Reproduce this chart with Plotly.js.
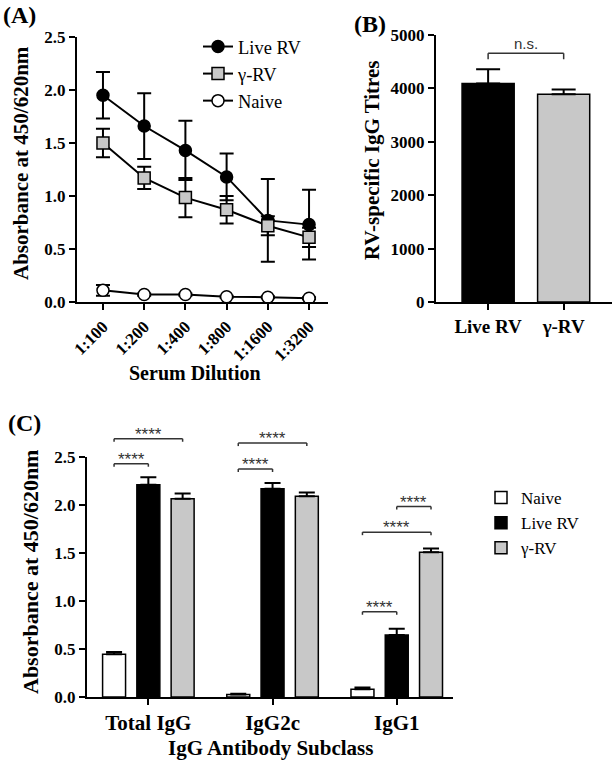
<!DOCTYPE html>
<html>
<head>
<meta charset="utf-8">
<script src="https://cdn.plot.ly/plotly-3.0.1.min.js"></script>
<style>
  html, body { margin: 0; padding: 0; background: #fff; }
  #chart { width: 615px; height: 761px; }
</style>
</head>
<body>
<div id="chart"></div>
<script>
// (A) absorbance vs serum dilution
const dilutions = ['1:100', '1:200', '1:400', '1:800', '1:1600', '1:3200'];
const liveMean = [1.95, 1.66, 1.43, 1.18, 0.77, 0.73];
const liveSd = [0.22, 0.31, 0.28, 0.22, 0.39, 0.33];
const gammaMean = [1.50, 1.17, 0.985, 0.87, 0.72, 0.61];
const gammaSd = [0.135, 0.105, 0.185, 0.13, 0.09, 0.09];
const naiveMean = [0.11, 0.07, 0.07, 0.05, 0.045, 0.035];
const naiveSd = [0.05, 0.01, 0.01, 0.01, 0.01, 0.01];

// (B) RV-specific IgG titres
const titreGroups = ['Live RV', 'γ-RV'];
const titres = [4090, 3890];
const titreErr = [270, 90];

// (C) IgG subclasses
const subclasses = ['Total IgG', 'IgG2c', 'IgG1'];
const subNaive = [0.445, 0.025, 0.08];
const subNaiveErr = [0.025, 0.008, 0.018];
const subLive = [2.21, 2.17, 0.645];
const subLiveErr = [0.08, 0.06, 0.065];
const subGamma = [2.065, 2.09, 1.508];
const subGammaErr = [0.055, 0.04, 0.04];
// [subclass index, from group, to group, bracket level]
const sigBrackets = [
  [0, 0, 1, 2.43], [0, 0, 2, 2.69],
  [1, 0, 1, 2.375], [1, 0, 2, 2.645],
  [2, 0, 1, 0.888], [2, 0, 2, 1.717], [2, 1, 2, 1.984],
];

const W = 615, H = 761;
const px = x => x / W;
const py = y => 1 - y / H;
const serif = '"Liberation Serif", "Times New Roman", Times, serif';
const sans = '"Liberation Sans", Arial, sans-serif';
const grey = '#c8c8c8';

const domA = { x: [px(77), px(328)], y: [py(302), py(37)] };
const domB = { x: [px(436), px(612)], y: [py(302), py(35)] };
const domC = { x: [px(87), px(453)], y: [py(697), py(457)] };

const boldFont = size => ({ family: serif, size, color: '#000', weight: 'bold' });

function axisStyle(extra) {
  return Object.assign({
    showline: true, linecolor: '#000', linewidth: 2,
    ticks: 'outside', ticklen: 6, tickwidth: 2, tickcolor: '#000',
    showgrid: false, zeroline: false, fixedrange: true,
    tickfont: boldFont(17),
  }, extra);
}

function errBar(arr, width, symmetric = true) {
  const e = { type: 'data', array: arr, color: '#000', thickness: 2, width };
  if (!symmetric) { e.symmetric = false; e.arrayminus = arr.map(() => 0); }
  return e;
}

const lineTrace = (name, y, sd, marker) => ({
  x: dilutions, y, name, type: 'scatter', mode: 'lines+markers',
  xaxis: 'x', yaxis: 'y', legend: 'legend',
  line: { color: '#000', width: 2 },
  marker: Object.assign({ size: 12, line: { color: '#000', width: 1.5 } }, marker),
  error_y: errBar(sd, 7),
});

const traces = [
  lineTrace('Live RV', liveMean, liveSd, { symbol: 'circle', color: '#000' }),
  lineTrace('γ-RV', gammaMean, gammaSd, { symbol: 'square', color: grey }),
  lineTrace('Naive', naiveMean, naiveSd, { symbol: 'circle', color: '#fff' }),
  {
    x: titreGroups, y: titres, type: 'bar', xaxis: 'x2', yaxis: 'y2', showlegend: false,
    width: 0.69, offset: -0.345,
    marker: { color: ['#000', grey], line: { color: '#000', width: 1.5 } },
    error_y: errBar(titreErr, 12, false),
  },
];

const subSeries = [
  ['Naive', subNaive, subNaiveErr, '#fff'],
  ['Live RV', subLive, subLiveErr, '#000'],
  ['γ-RV', subGamma, subGammaErr, grey],
];
const barStep = 0.276, barW = 0.185;
subSeries.forEach(([name, y, err, color], i) => {
  traces.push({
    x: subclasses, y, name, type: 'bar', xaxis: 'x3', yaxis: 'y3', legend: 'legend2',
    width: barW, offset: (i - 1) * barStep - barW / 2,
    marker: { color, line: { color: '#000', width: 1.5 } },
    error_y: errBar(err, 8, false),
  });
});

// significance brackets, in paper y so they can sit above the axis top
const toPaper = (v, dom, max) => dom.y[0] + (v / max) * (dom.y[1] - dom.y[0]);
const shapes = [];
const annotations = [];
function bracket(xref, x0, x1, yp, legPx, label, size, shift) {
  const leg = legPx / H;
  const base = { type: 'line', xref, yref: 'paper', line: { color: '#333', width: 1.5 } };
  shapes.push(Object.assign({ x0, x1, y0: yp, y1: yp }, base));
  shapes.push(Object.assign({ x0, x1: x0, y0: yp, y1: yp - leg }, base));
  shapes.push(Object.assign({ x0: x1, x1, y0: yp, y1: yp - leg }, base));
  annotations.push({
    xref, yref: 'paper', x: (x0 + x1) / 2, y: yp, xanchor: 'center', yanchor: 'bottom', yshift: shift,
    text: label, showarrow: false, font: { family: sans, size, color: '#333' },
  });
}
sigBrackets.forEach(([c, a, b, level]) => {
  bracket('x3', c + (a - 1) * barStep, c + (b - 1) * barStep, toPaper(level, domC, 2.5), 3, '****', 17, -7);
});
bracket('x2', 0, 1, toPaper(4658, domB, 5000), 6, 'n.s.', 15, -1);

const textAnn = (text, x, y, size, extra) => Object.assign({
  text, xref: 'paper', yref: 'paper', x: px(x), y: py(y), showarrow: false,
  xanchor: 'center', yanchor: 'middle', font: boldFont(size),
}, extra);
annotations.push(
  textAnn('(A)', 1, 15, 24, { xanchor: 'left' }),
  textAnn('(B)', 352, 24, 24, { xanchor: 'left' }),
  textAnn('(C)', 6, 423, 24, { xanchor: 'left' }),
  textAnn('Absorbance at 450/620nm', 21, 163, 21, { textangle: -90 }),
  textAnn('Serum Dilution', 195, 373, 20),
  textAnn('RV-specific IgG Titres', 372, 160, 21, { textangle: -90 }),
  textAnn('Absorbance at 450/620nm', 30, 572, 22, { textangle: -90 }),
  textAnn('IgG Antibody Subclass', 270, 748, 21),
);

const layout = {
  width: W, height: H,
  margin: { l: 0, r: 0, t: 0, b: 0 },
  font: { family: serif, color: '#000' },
  paper_bgcolor: '#fff', plot_bgcolor: 'rgba(0,0,0,0)',
  barmode: 'overlay',
  xaxis: axisStyle({ domain: domA.x, anchor: 'y', type: 'category', range: [-0.63, 5.46], tickangle: -45 }),
  yaxis: axisStyle({ domain: domA.y, anchor: 'x', range: [0, 2.5], dtick: 0.5, tickformat: '.1f' }),
  xaxis2: axisStyle({ domain: domB.x, anchor: 'y2', type: 'category', range: [-0.69, 1.64], tickfont: boldFont(19) }),
  yaxis2: axisStyle({ domain: domB.y, anchor: 'x2', range: [0, 5000], dtick: 1000 }),
  xaxis3: axisStyle({ domain: domC.x, anchor: 'y3', type: 'category', range: [-0.494, 2.453], tickfont: boldFont(21) }),
  yaxis3: axisStyle({ domain: domC.y, anchor: 'x3', range: [0, 2.5], dtick: 0.5, tickformat: '.1f' }),
  legend: {
    x: px(198), y: py(28), xanchor: 'left', yanchor: 'top',
    bgcolor: 'rgba(0,0,0,0)', tracegroupgap: 0,
    font: { family: serif, size: 18.5, color: '#000' },
  },
  legend2: {
    x: px(481), y: py(480), xanchor: 'left', yanchor: 'top',
    bgcolor: 'rgba(0,0,0,0)', tracegroupgap: 0,
    font: { family: serif, size: 17, color: '#000' },
  },
  shapes,
  annotations,
};

Plotly.newPlot('chart', traces, layout, { displayModeBar: false, staticPlot: true });
</script>
</body>
</html>
